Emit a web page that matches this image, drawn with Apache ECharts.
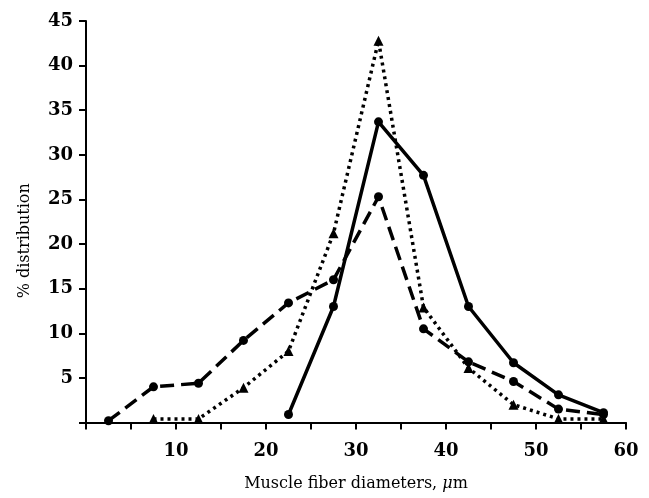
<!DOCTYPE html>
<html>
<head>
<meta charset="utf-8">
<script src="https://cdn.jsdelivr.net/npm/echarts@6/dist/echarts.min.js"></script>
<style>
  html, body { margin: 0; padding: 0; background: #fff; }
  #chart { width: 649px; height: 498px; }
</style>
</head>
<body>
<div id="chart"></div>
<script>
// fiber diameter bins (um) and % distribution per group
var diameters = [2.5, 7.5, 12.5, 17.5, 22.5, 27.5, 32.5, 37.5, 42.5, 47.5, 52.5, 57.5];
var dashedVals = [0.2, 4.0, 4.4, 9.2, 13.4, 16.0, 25.3, 10.5, 6.8, 4.6, 1.5, 0.9];
var dottedVals = [null, 0.4, 0.4, 3.9, 8.0, 21.2, 42.8, 12.9, 6.1, 2.0, 0.4, 0.4];
var solidVals = [null, null, null, null, 0.9, 13.0, 33.7, 27.7, 13.0, 6.7, 3.1, 1.1];

function pairs(vals) {
  var out = [];
  for (var i = 0; i < diameters.length; i++) {
    if (vals[i] != null) out.push([diameters[i], vals[i]]);
  }
  return out;
}

var font = 'DejaVu Serif';
var myChart = echarts.init(document.getElementById('chart'));
option = {
  backgroundColor: '#fff',
  animation: false,
  grid: { left: 86, right: 23, top: 21, bottom: 75.5 },
  xAxis: {
    type: 'value',
    min: 0,
    max: 60,
    interval: 5,
    name: 'Muscle fiber diameters, {mu|μ}m',
    nameLocation: 'middle',
    nameGap: 53,
    nameTextStyle: {
      color: '#000',
      fontFamily: font,
      fontSize: 16,
      rich: { mu: { fontStyle: 'italic', fontFamily: font, fontSize: 16, color: '#000' } }
    },
    axisLine: { lineStyle: { color: '#000', width: 2 } },
    axisTick: { length: 7, lineStyle: { color: '#000', width: 2 } },
    axisLabel: {
      margin: 20,
      color: '#000',
      fontFamily: font,
      fontWeight: 'bold',
      fontSize: 18,
      formatter: function (v) {
        return (v > 0 && v % 10 === 0) ? v : '';
      }
    },
    splitLine: { show: false }
  },
  yAxis: {
    type: 'value',
    min: 0,
    max: 45,
    interval: 5,
    name: '% distribution',
    nameLocation: 'middle',
    nameGap: 53,
    nameTextStyle: {
      color: '#000',
      fontFamily: font,
      fontSize: 16,
      padding: [0, 38, 0, 0]
    },
    axisLine: { show: true, lineStyle: { color: '#000', width: 2 } },
    axisTick: { show: true, length: 7, lineStyle: { color: '#000', width: 2 } },
    axisLabel: {
      margin: 13,
      color: '#000',
      fontFamily: font,
      fontWeight: 'bold',
      fontSize: 18,
      formatter: function (v) {
        return v > 0 ? v : '';
      }
    },
    splitLine: { show: false }
  },
  series: [
    {
      type: 'line',
      data: pairs(dashedVals),
      symbol: 'circle',
      symbolSize: 9,
      itemStyle: { color: '#000' },
      lineStyle: { color: '#000', width: 3.5, type: [14, 7] }
    },
    {
      type: 'line',
      data: pairs(dottedVals),
      symbol: 'triangle',
      symbolSize: 10,
      itemStyle: { color: '#000' },
      lineStyle: { color: '#000', width: 3.5, type: [3, 4] }
    },
    {
      type: 'line',
      data: pairs(solidVals),
      symbol: 'circle',
      symbolSize: 9,
      itemStyle: { color: '#000' },
      lineStyle: { color: '#000', width: 3.5, type: 'solid' }
    }
  ]
};
myChart.setOption(option);
</script>
</body>
</html>
